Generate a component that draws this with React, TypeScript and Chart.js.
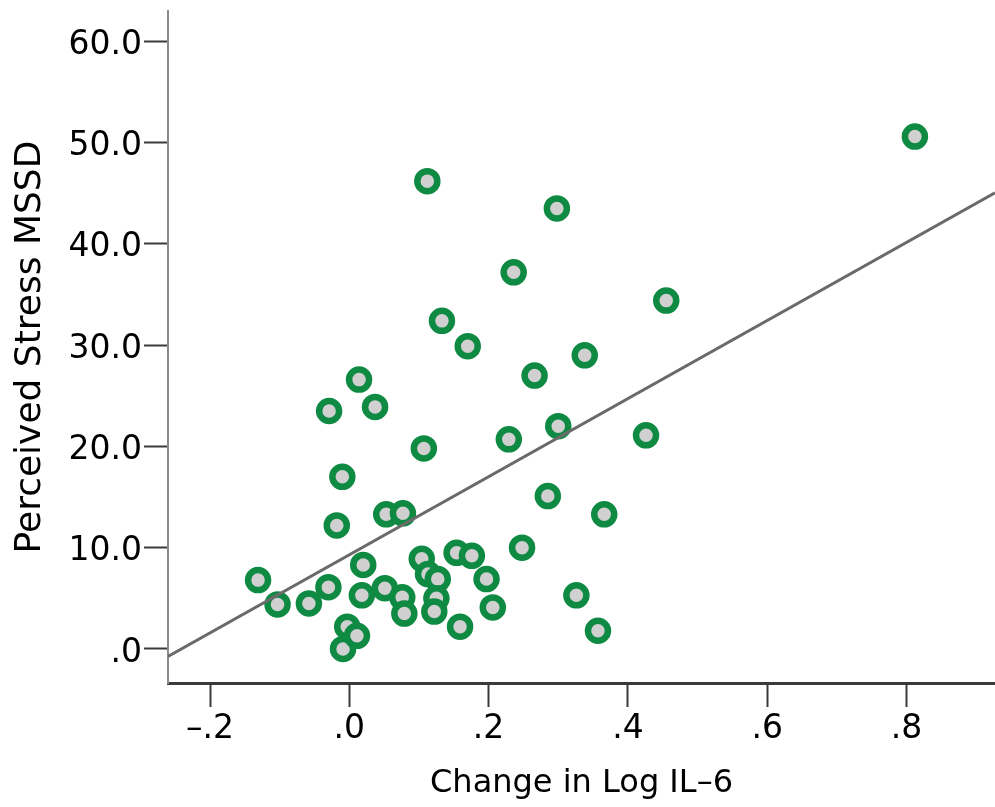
import React, { useEffect, useRef } from 'react';
import { Chart, registerables } from 'chart.js';

Chart.register(...registerables);

// ---- data ----
const changeLogIL6 = [
  -0.131, -0.103, -0.058, -0.030, -0.029, -0.010, -0.018, -0.009, -0.003,
  0.011, 0.014, 0.020, 0.018, 0.037, 0.053, 0.051, 0.077, 0.076, 0.079,
  0.104, 0.107, 0.113, 0.127, 0.125, 0.122, 0.112, 0.133, 0.154, 0.159,
  0.176, 0.170, 0.197, 0.206, 0.229, 0.236, 0.248, 0.266, 0.285, 0.298,
  0.300, 0.326, 0.338, 0.357, 0.366, 0.426, 0.455, 0.812,
];
const perceivedStressMSSD = [
  6.8, 4.4, 4.5, 6.1, 23.5, 17.0, 12.2, 0.0, 2.2,
  1.3, 26.6, 8.3, 5.3, 23.9, 13.3, 6.0, 13.4, 5.1, 3.5,
  8.9, 19.8, 7.4, 6.9, 5.0, 3.7, 46.2, 32.4, 9.5, 2.2,
  9.2, 29.9, 6.9, 4.1, 20.7, 37.2, 10.0, 27.0, 15.1, 43.5,
  22.0, 5.3, 29.0, 1.8, 13.3, 21.1, 34.4, 50.6,
];

const xTickValues = [-0.2, 0, 0.2, 0.4, 0.6, 0.8];
const xTickLabels = ['\u2013.2', '.0', '.2', '.4', '.6', '.8'];
const yTickValues = [0, 10, 20, 30, 40, 50, 60];
const yTickLabels = ['.0', '10.0', '20.0', '30.0', '40.0', '50.0', '60.0'];

const xAxisTitle = 'Change in Log IL\u20136';
const yAxisTitle = 'Perceived Stress MSSD';

const xRange = [-0.2603, 0.927];
const yRange = [-3.36, 63.0];

// ---- least-squares fit line from the data ----
function fitLine(xs: number[], ys: number[]) {
  const n = xs.length;
  const mx = xs.reduce((a, b) => a + b, 0) / n;
  const my = ys.reduce((a, b) => a + b, 0) / n;
  let sxy = 0;
  let sxx = 0;
  for (let i = 0; i < n; i++) {
    sxy += (xs[i] - mx) * (ys[i] - my);
    sxx += (xs[i] - mx) * (xs[i] - mx);
  }
  const slope = sxy / sxx;
  return { slope, intercept: my - slope * mx };
}

const FONT = '"DejaVu Sans", Verdana, sans-serif';
const GREEN = '#0f8a43';
const FILL = '#d0d0d0';

export default function App() {
  const canvasRef = useRef<HTMLCanvasElement | null>(null);

  useEffect(() => {
    const canvas = canvasRef.current;
    if (!canvas) return;
    const { slope, intercept } = fitLine(changeLogIL6, perceivedStressMSSD);
    const linePts = xRange.map((x) => ({ x, y: intercept + slope * x }));
    const points = changeLogIL6.map((x, i) => ({ x, y: perceivedStressMSSD[i] }));

    const chart = new Chart(canvas, {
      type: 'scatter',
      data: {
        datasets: [
          {
            type: 'line',
            data: linePts,
            borderColor: '#6a6a6a',
            borderWidth: 3,
            pointRadius: 0,
            fill: false,
            order: 0,
          } as any,
          {
            data: points,
            pointRadius: 10,
            pointBorderWidth: 6.5,
            pointBackgroundColor: FILL,
            pointBorderColor: GREEN,
            order: 1,
          },
        ],
      },
      options: {
        responsive: false,
        animation: false,
        layout: { autoPadding: false, padding: { top: 11, left: 0, right: 0, bottom: 0 } },
        plugins: { legend: { display: false }, tooltip: { enabled: false } },
        scales: {
          x: {
            type: 'linear',
            position: 'bottom',
            min: xRange[0],
            max: xRange[1],
            afterBuildTicks: (s: any) => {
              s.ticks = xTickValues.map((v) => ({ value: v }));
            },
            afterFit: (s: any) => {
              s.height = 124;
              s.paddingLeft = 0;
              s.paddingRight = 0;
              s.paddingTop = 0;
              s.paddingBottom = 0;
            },
            ticks: {
              autoSkip: false,
              maxRotation: 0,
              padding: 3,
              color: '#000',
              font: { family: FONT, size: 33 },
              callback: (v: any) => {
                const i = xTickValues.findIndex((t) => Math.abs(t - Number(v)) < 1e-9);
                return i >= 0 ? xTickLabels[i] : '';
              },
            },
            grid: {
              display: true,
              drawOnChartArea: false,
              drawTicks: true,
              tickLength: 24,
              tickColor: '#3a3a3a',
              tickWidth: 2,
            },
            border: { display: true, color: '#3a3a3a', width: 3 },
            title: {
              display: true,
              text: xAxisTitle,
              color: '#000',
              font: { family: FONT, size: 32 },
              padding: { top: 0, bottom: 4 },
            },
          },
          y: {
            type: 'linear',
            position: 'left',
            min: yRange[0],
            max: yRange[1],
            afterBuildTicks: (s: any) => {
              s.ticks = yTickValues.map((v) => ({ value: v }));
            },
            afterFit: (s: any) => {
              s.width = 168;
              s.paddingLeft = 0;
              s.paddingRight = 0;
              s.paddingTop = 0;
              s.paddingBottom = 0;
            },
            ticks: {
              autoSkip: false,
              padding: 2,
              labelOffset: 4,
              color: '#000',
              font: { family: FONT, size: 33 },
              callback: (v: any) => {
                const i = yTickValues.findIndex((t) => Math.abs(t - Number(v)) < 1e-9);
                return i >= 0 ? yTickLabels[i] : '';
              },
            },
            grid: {
              display: true,
              drawOnChartArea: false,
              drawTicks: true,
              tickLength: 24,
              tickColor: '#3a3a3a',
              tickWidth: 2,
            },
            border: { display: true, color: '#8a8a8a', width: 2 },
            title: {
              display: true,
              text: yAxisTitle,
              color: '#000',
              font: { family: FONT, size: 36 },
              padding: { top: 9, bottom: 0 },
            },
          },
        },
      },
    });
    return () => chart.destroy();
  }, []);

  return (
    <div style={{ position: 'fixed', left: 0, top: 0, width: 995, height: 807, background: '#fff' }}>
      <canvas ref={canvasRef} width={995} height={807} style={{ display: 'block' }} />
    </div>
  );
}
